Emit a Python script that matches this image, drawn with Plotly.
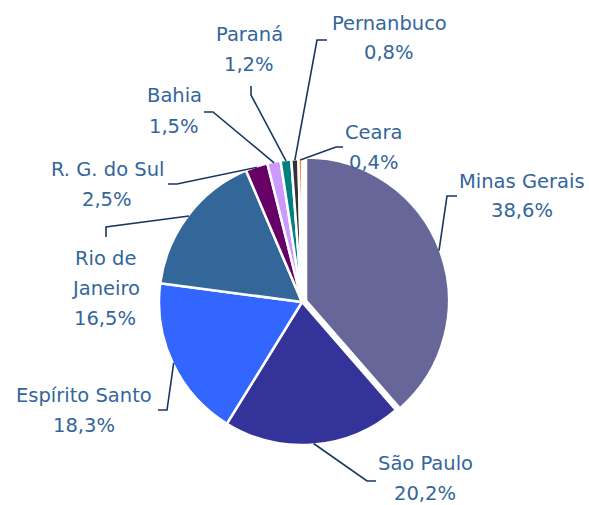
import math
import plotly.graph_objects as go

# ---- data ----
states = ["Minas Gerais", "São Paulo", "Espírito Santo", "Rio de Janeiro",
          "R. G. do Sul", "Bahia", "Paraná", "Pernanbuco", "Ceara"]
shares = [38.6, 20.2, 18.3, 16.5, 2.5, 1.5, 1.2, 0.8, 0.4]
label_lines = [["Minas Gerais"], ["São Paulo"], ["Espírito Santo"], ["Rio de", "Janeiro"],
               ["R. G. do Sul"], ["Bahia"], ["Paraná"], ["Pernanbuco"], ["Ceara"]]
colors = ["#666699", "#333399", "#3366FF", "#336699", "#660066",
          "#CC99FF", "#008080", "#333333", "#FF6600"]
pulls = [0.03, 0, 0, 0, 0, 0, 0, 0, 0]

# ---- layout (pixels) ----
W, H = 589, 505
CX, CY, R = 302, 302, 143
# label centre x, first line y, and leader elbow / end points
label_pos = [
    (522, 181), (425, 463), (84, 395), (105, 258), (107, 169),
    (174, 96), (249, 34), (389, 23), (374, 132),
]
elbows = [
    ((447, 196), (457, 196)),
    ((367, 481), (376, 481)),
    ((167, 410), (158, 410)),
    ((106, 227), (106, 237)),
    ((177, 184), (168, 184)),
    ((213, 112), (204, 112)),
    ((251, 95), (251, 86)),
    ((317, 40), (327, 40)),
    ((336, 147), (343, 147)),
]
LINE_GAP = 30
TEXT_COLOR = "#33669C"
LEAD_COLOR = "#17375E"

maxpull = max(pulls)
half = R * (1 + maxpull)
dom_x = [(CX - half) / W, (CX + half) / W]
dom_y = [1 - (CY + half) / H, 1 - (CY - half) / H]

fig = go.Figure(go.Pie(
    labels=states, values=shares, sort=False, direction="clockwise", rotation=0,
    marker=dict(colors=colors, line=dict(color="white", width=2.5)),
    pull=pulls, textinfo="none", hoverinfo="label+percent", showlegend=False,
    domain=dict(x=dom_x, y=dom_y),
))

def px(x):
    return x / W

def py(y):
    return 1 - y / H

total = sum(shares)
cum = 0.0
annotations = []
shapes = []
for i, v in enumerate(shares):
    mid = (cum + v / 2) / total * 2 * math.pi
    cum += v
    off = pulls[i] * R
    rr = R - 1 + off
    sx = CX + rr * math.sin(mid)
    sy = CY - rr * math.cos(mid)
    (ex, ey), (fx, fy) = elbows[i]
    path = f"M {px(sx)} {py(sy)} L {px(ex)} {py(ey)} L {px(fx)} {py(fy)}"
    shapes.append(dict(type="path", xref="paper", yref="paper", path=path,
                       line=dict(color=LEAD_COLOR, width=1.6)))
    lx, ly = label_pos[i]
    lines = label_lines[i] + [f"{v:.1f}%".replace(".", ",")]
    for k, t in enumerate(lines):
        annotations.append(dict(
            x=px(lx), y=py(ly + k * LINE_GAP), xref="paper", yref="paper",
            text=t, showarrow=False, xanchor="center", yanchor="middle",
            font=dict(family="DejaVu Sans, sans-serif", size=19.5, color=TEXT_COLOR),
        ))

fig.update_layout(
    width=W, height=H, margin=dict(l=0, r=0, t=0, b=0),
    paper_bgcolor="white", plot_bgcolor="white",
    annotations=annotations, shapes=shapes,
)

fig.write_html("out.html", config={"displayModeBar": False},
               post_script="document.body.style.margin='0';document.body.style.overflow='hidden';")
